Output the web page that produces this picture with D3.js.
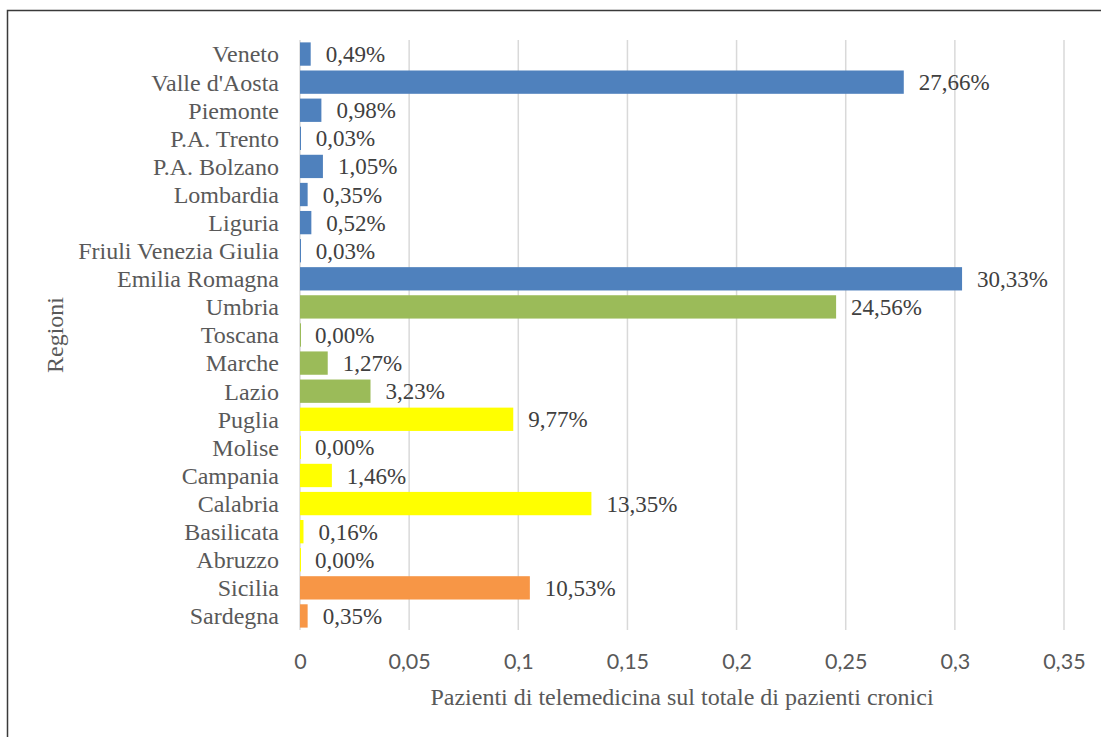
<!DOCTYPE html>
<html>
<head>
<meta charset="utf-8">
<script src="https://cdn.jsdelivr.net/npm/d3@7"></script>
<style>
  body { margin: 0; background: #fff; }
  svg { display: block; }
  .cat { font-family: "Liberation Serif", "Times New Roman", serif; font-size: 24px; fill: #595959; }
  .val { font-family: "Liberation Serif", "Times New Roman", serif; font-size: 23px; fill: #404040; }
  .tick text { font-family: Lato, "Open Sans", sans-serif; font-size: 21.5px; fill: #595959; }
  .title { font-family: "Liberation Serif", "Times New Roman", serif; font-size: 24px; fill: #595959; }
</style>
</head>
<body>
<svg width="1101" height="737"></svg>
<script>
const REGIONS = ['Veneto', "Valle d'Aosta", 'Piemonte', 'P.A. Trento', 'P.A. Bolzano', 'Lombardia',
  'Liguria', 'Friuli Venezia Giulia', 'Emilia Romagna', 'Umbria', 'Toscana', 'Marche', 'Lazio',
  'Puglia', 'Molise', 'Campania', 'Calabria', 'Basilicata', 'Abruzzo', 'Sicilia', 'Sardegna']
const VALUES = [0.0049, 0.2766, 0.0098, 0.0003, 0.0105, 0.0035, 0.0052, 0.0003, 0.3033,
  0.2456, 0.0000, 0.0127, 0.0323, 0.0977, 0.0000, 0.0146, 0.1335, 0.0016, 0.0000, 0.1053, 0.0035]
const AREAS = ['Nord', 'Nord', 'Nord', 'Nord', 'Nord', 'Nord', 'Nord', 'Nord', 'Nord',
  'Centro', 'Centro', 'Centro', 'Centro', 'Sud', 'Sud', 'Sud', 'Sud', 'Sud', 'Sud', 'Isole', 'Isole']
const TICKS = [0, 0.05, 0.1, 0.15, 0.2, 0.25, 0.3, 0.35]
const AREA_COLORS = { Nord: '#4f81bd', Centro: '#9bbb59', Sud: '#ffff00', Isole: '#f79646' }

const data = REGIONS.map((r, i) => ({ region: r, value: VALUES[i], area: AREAS[i] }))

const svg = d3.select('svg')
const margin = { top: 40, right: 37, bottom: 107, left: 300 }
const width = 1101
const height = 737

const x = d3.scaleLinear().domain([0, 0.35]).range([margin.left, width - margin.right])
const y = d3.scaleBand().domain(REGIONS).range([margin.top, height - margin.bottom]).paddingInner(0.17).paddingOuter(0.085)

const fmt = d3.formatLocale({ decimal: ',', thousands: '.', grouping: [3], currency: ['€', ''] })
const tickFmt = v => fmt.format('~g')(v)
const pctFmt = fmt.format('.2%')

// frame
svg.append('rect')
  .attr('x', 7.5).attr('y', 10.5)
  .attr('width', 1100).attr('height', 740)
  .attr('fill', 'none').attr('stroke', '#3a3a3a').attr('stroke-width', 1.5)

// grid
svg.append('g')
  .selectAll('line')
  .data(TICKS)
  .join('line')
  .attr('x1', d => x(d)).attr('x2', d => x(d))
  .attr('y1', margin.top).attr('y2', height - margin.bottom)
  .attr('stroke', '#d9d9d9').attr('stroke-width', 1.5)

// x axis labels
const xAxis = svg.append('g')
  .attr('transform', `translate(0,${height - margin.bottom + 24})`)
  .call(d3.axisBottom(x).tickValues(TICKS).tickFormat(tickFmt).tickSize(0).tickPadding(0))
xAxis.select('.domain').remove()
xAxis.selectAll('text').attr('dy', '0.71em')

// bars (zero values still show a hairline, as in the original)
svg.append('g')
  .selectAll('rect')
  .data(data)
  .join('rect')
  .attr('x', x(0))
  .attr('y', d => y(d.region))
  .attr('width', d => Math.max(1, x(d.value) - x(0)))
  .attr('height', y.bandwidth())
  .attr('fill', d => AREA_COLORS[d.area])

// value labels
svg.append('g')
  .selectAll('text')
  .data(data)
  .join('text')
  .attr('class', 'val')
  .attr('x', d => x(d.value) + 15)
  .attr('y', d => y(d.region) + y.bandwidth() / 2)
  .attr('dy', '0.35em')
  .text(d => pctFmt(d.value))

// category labels
svg.append('g')
  .selectAll('text')
  .data(data)
  .join('text')
  .attr('class', 'cat')
  .attr('x', 279)
  .attr('y', d => y(d.region) + y.bandwidth() / 2)
  .attr('dy', '0.35em')
  .attr('text-anchor', 'end')
  .text(d => d.region)

// axis titles
svg.append('text')
  .attr('class', 'title')
  .attr('x', 682).attr('y', 705)
  .attr('text-anchor', 'middle')
  .text('Pazienti di telemedicina sul totale di pazienti cronici')

svg.append('text')
  .attr('class', 'title')
  .attr('transform', 'translate(63,335) rotate(-90)')
  .attr('text-anchor', 'middle')
  .text('Regioni')
</script>
</body>
</html>
